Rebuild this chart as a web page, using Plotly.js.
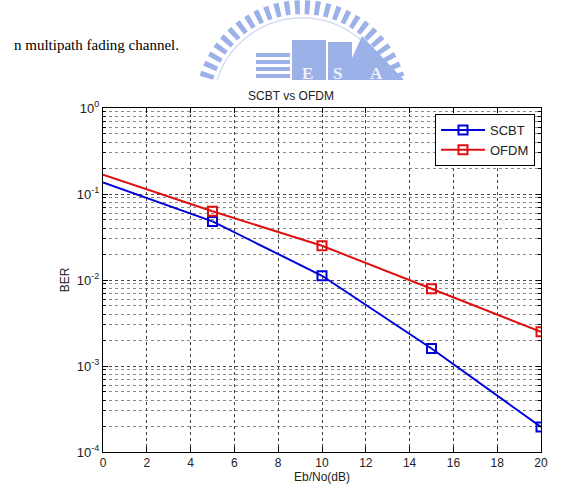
<!DOCTYPE html>
<html>
<head>
<meta charset="utf-8">
<script src="https://cdn.plot.ly/plotly-3.0.1.min.js"></script>
<style>
  html, body { margin: 0; padding: 0; background: #fff; }
  #chart { width: 582px; height: 494px; }
</style>
</head>
<body>
<div id="chart"></div>
<script>
// Eb/No sweep (dB) and simulated bit error rates
const ebno = [0, 5, 10, 15, 20];
const berSCBT = [0.136, 0.048, 0.0112, 0.0016, 0.000195];
const berOFDM = [0.168, 0.063, 0.025, 0.0079, 0.0025];
const seriesNames = ['SCBT', 'OFDM'];
const xTickVals = [0, 2, 4, 6, 8, 10, 12, 14, 16, 18, 20];
const yTickVals = [1e-4, 1e-3, 1e-2, 1e-1, 1];
const yTickText = ['10<sup>-4</sup>', '10<sup>-3</sup>', '10<sup>-2</sup>', '10<sup>-1</sup>', '10<sup>0</sup>'];

const blue = '#0000dd';
const red = '#e01010';
const font = 'Liberation Sans, Arial, sans-serif';

// plot area in pixels, used to place page decorations
const W = 582, H = 494, L = 103, R = 41, T = 108, B = 42;
const pw = W - L - R, ph = H - T - B;
const px = v => (v - L) / pw;
const py = v => 1 - (v - T) / ph;

function seriesTraces(name, y, color) {
  // line from the first sample, markers on the remaining samples
  return [
    {
      x: ebno.slice(0, 2), y: y.slice(0, 2), mode: 'lines',
      line: { color: color, width: 2 }, showlegend: false, hoverinfo: 'skip'
    },
    {
      x: ebno.slice(1), y: y.slice(1), name: name, mode: 'lines+markers',
      line: { color: color, width: 2 },
      marker: { symbol: 'square-open', size: 9, color: color, line: { width: 2, color: color } }
    }
  ];
}

const traces = [
  ...seriesTraces(seriesNames[0], berSCBT, blue),
  ...seriesTraces(seriesNames[1], berOFDM, red)
];

// faint university emblem printed behind the page header
const logoSvg =
  '<svg xmlns="http://www.w3.org/2000/svg" width="240" height="80" viewBox="0 0 240 80">' +
  '<g fill="none" stroke="#7d97e2">' +
  '<path d="M36.4,77.8 A100,100 0 0 1 227.6,77.8" stroke-width="14" stroke-dasharray="5 5"/>' +
  '<path d="M46,84 A89,89 0 0 1 218,84" stroke-width="1.2" opacity="0.5"/>' +
  '</g>' +
  '<g fill="#7d97e2">' +
  '<rect x="86" y="53" width="34" height="4"/><rect x="86" y="60" width="34" height="4"/>' +
  '<rect x="86" y="67" width="34" height="4"/><rect x="86" y="74" width="34" height="4"/>' +
  '<rect x="122" y="40" width="34" height="40"/>' +
  '<rect x="158" y="42" width="24" height="38"/>' +
  '<path d="M172,80 L192,36 L234,80 Z"/>' +
  '</g>' +
  '<g fill="#e8eefc" font-family="Liberation Serif, serif" font-size="17" font-weight="bold">' +
  '<text x="132" y="79">E</text><text x="163" y="79">S</text><text x="200" y="79">A</text>' +
  '</g></svg>';

const gridCol = '#444';

const layout = {
  width: W, height: H,
  paper_bgcolor: '#fff', plot_bgcolor: '#fff',
  margin: { l: L, r: R, t: T, b: B },
  font: { family: font, size: 11, color: '#000' },
  title: {
    text: 'SCBT vs OFDM', font: { family: font, size: 12, color: '#222' },
    x: 0.5, xanchor: 'center', y: 1 - 96 / H, yanchor: 'middle'
  },
  xaxis: {
    range: [0, 20], tickvals: xTickVals, ticks: 'inside', ticklen: 5,
    tickcolor: '#000', showline: true, linecolor: '#000', linewidth: 1, mirror: 'ticks',
    showgrid: true, gridcolor: gridCol, griddash: 'dot', gridwidth: 1,
    zeroline: false,
    tickfont: { family: font, size: 12, color: '#222' },
    title: { text: 'Eb/No(dB)', font: { family: font, size: 12, color: '#222' }, standoff: 3 }
  },
  yaxis: {
    type: 'log', range: [-4, 0], tickvals: yTickVals, ticktext: yTickText,
    ticks: 'inside', ticklen: 5, tickcolor: '#000',
    showline: true, linecolor: '#000', linewidth: 1, mirror: 'ticks',
    showgrid: true, gridcolor: gridCol, griddash: 'dot', gridwidth: 1,
    minor: { dtick: 'D1', showgrid: true, gridcolor: '#8a8a8a', griddash: 'dot', gridwidth: 1, ticks: 'inside', ticklen: 3, tickcolor: '#000' },
    zeroline: false,
    tickfont: { family: font, size: 13, color: '#222' },
    title: { text: 'BER', font: { family: font, size: 12, color: '#222' }, standoff: 4 }
  },
  legend: {
    x: px(535), xanchor: 'right', y: py(114), yanchor: 'top',
    bgcolor: '#fff', bordercolor: '#000', borderwidth: 1,
    font: { family: font, size: 13, color: '#222' },
    itemwidth: 44, tracegroupgap: 0
  },
  images: [
    {
      source: 'data:image/svg+xml;charset=utf-8,' + encodeURIComponent(logoSvg),
      xref: 'paper', yref: 'paper', x: px(170), y: py(0),
      sizex: 240 / pw, sizey: 80 / ph, sizing: 'stretch',
      xanchor: 'left', yanchor: 'top', layer: 'below', opacity: 0.75
    }
  ],
  annotations: [
    {
      text: 'n multipath fading channel.', xref: 'paper', yref: 'paper',
      x: px(12), y: py(45), xanchor: 'left', yanchor: 'middle',
      showarrow: false, font: { family: 'Liberation Serif, Times New Roman, serif', size: 15, color: '#000' }
    }
  ]
};

Plotly.newPlot('chart', traces, layout, { displayModeBar: false, staticPlot: true });
</script>
</body>
</html>
